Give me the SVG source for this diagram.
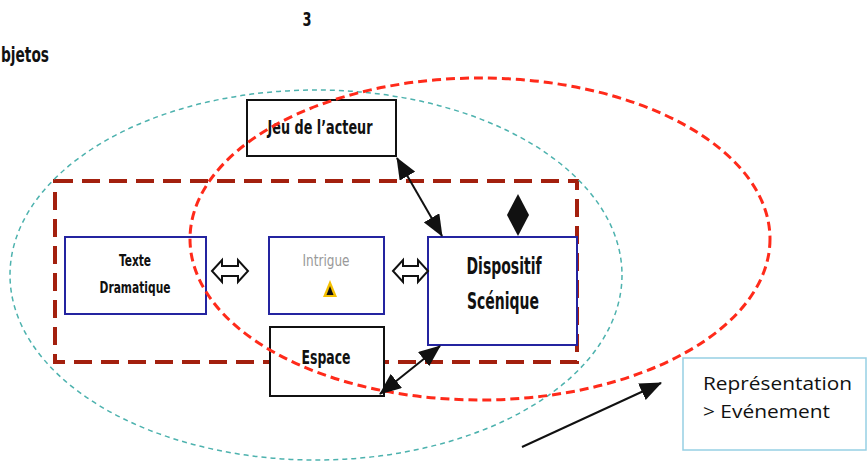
<svg xmlns="http://www.w3.org/2000/svg" width="867" height="461" viewBox="0 0 867 461">
<style>
.bg{fill:#ffffff}
.lbl{font-family:"DejaVu Sans Condensed","DejaVu Sans",sans-serif;font-stretch:condensed;font-weight:bold;fill:#111111}
.blue{fill:#ffffff;stroke:#2424a0;stroke-width:2}
.black{fill:#ffffff;stroke:#111111;stroke-width:2}
.conn{stroke:#111111;stroke-width:2;fill:none}
.hollow{fill:#ffffff;stroke:#111111;stroke-width:2;stroke-linejoin:miter}
</style>
<defs>
<marker id="ah" viewBox="0 0 22 18" refX="21" refY="9" markerWidth="22" markerHeight="18" markerUnits="userSpaceOnUse" orient="auto-start-reverse">
<path d="M0,0 L22,9 L0,18 Z" fill="#111111"/>
</marker>
</defs>
<rect class="bg" x="0" y="0" width="867" height="461"/>
<text class="lbl" x="307" y="26" font-size="19" text-anchor="middle" textLength="9" lengthAdjust="spacingAndGlyphs">3</text>
<text class="lbl" x="1" y="62" font-size="21" textLength="48" lengthAdjust="spacingAndGlyphs">bjetos</text>

<g id="frame">
<rect x="55" y="181" width="522" height="181" fill="none" stroke="#a3200e" stroke-width="4" stroke-dasharray="18,9"/>
</g>

<g id="jeu">
<rect class="black" x="247" y="100" width="149" height="56"/>
<text class="lbl" x="320" y="134" font-size="20" text-anchor="middle" textLength="105" lengthAdjust="spacingAndGlyphs">Jeu  de  l’acteur</text>
</g>

<g id="texte">
<rect class="blue" x="65" y="237" width="141" height="77"/>
<text class="lbl" x="135" y="266" font-size="16" text-anchor="middle" textLength="32" lengthAdjust="spacingAndGlyphs">Texte</text>
<text class="lbl" x="135" y="293" font-size="16" text-anchor="middle" textLength="71" lengthAdjust="spacingAndGlyphs">Dramatique</text>
</g>

<g id="intrigue">
<rect class="blue" x="269" y="237" width="115" height="77"/>
<text x="326" y="266" font-family="'DejaVu Sans Condensed','DejaVu Sans',sans-serif" font-stretch="condensed" font-size="16" fill="#999999" text-anchor="middle" textLength="47" lengthAdjust="spacingAndGlyphs">Intrigue</text>
<polygon points="330,280 337,297 323,297" fill="#f5c000"/>
<polygon points="330,286 333.5,295 326.5,295" fill="#111111"/>
</g>

<g id="dispositif">
<rect class="blue" x="428" y="237" width="149" height="108"/>
<text class="lbl" x="504" y="274" font-size="23" text-anchor="middle" textLength="75" lengthAdjust="spacingAndGlyphs">Dispositif</text>
<text class="lbl" x="503" y="309" font-size="23" text-anchor="middle" textLength="72" lengthAdjust="spacingAndGlyphs">Scénique</text>
</g>

<g id="espace">
<rect class="black" x="270" y="327" width="114" height="69"/>
<text class="lbl" x="326" y="364" font-size="19" text-anchor="middle" textLength="49" lengthAdjust="spacingAndGlyphs">Espace</text>
</g>

<g id="representation">
<rect x="683" y="358" width="183" height="92" fill="#ffffff" stroke="#96d0e4" stroke-width="1.5"/>
<text x="703" y="390" font-family="'Open Sans','Liberation Sans',sans-serif" font-size="19" fill="#111111" textLength="149" lengthAdjust="spacingAndGlyphs">Représentation</text>
<text x="703" y="418" font-family="'Open Sans','Liberation Sans',sans-serif" font-size="19" fill="#111111" textLength="127" lengthAdjust="spacingAndGlyphs">&gt; Evénement</text>
</g>

<g id="ellipses">
<ellipse cx="316" cy="275" rx="306" ry="185" fill="none" stroke="#4db2ae" stroke-width="1.5" stroke-dasharray="5,4"/>
<ellipse cx="480" cy="239" rx="290" ry="161" fill="none" stroke="#ff2a1a" stroke-width="3" stroke-dasharray="9,5"/>
</g>

<g id="connectors">
<line class="conn" x1="397" y1="158" x2="442" y2="236" marker-start="url(#ah)" marker-end="url(#ah)"/>
<line class="conn" x1="380" y1="394" x2="440" y2="346" marker-start="url(#ah)" marker-end="url(#ah)"/>
<line class="conn" x1="522" y1="447" x2="661" y2="383" marker-end="url(#ah)"/>
<polygon points="518,194 529,215 518,236 507,215" fill="#111111"/>
<path class="hollow" d="M212,271 L222,260 L222,266 L238,266 L238,260 L248,271 L238,282 L238,276 L222,276 L222,282 Z"/>
<path class="hollow" d="M393,271 L403,260 L403,266 L418,266 L418,260 L428,271 L418,282 L418,276 L403,276 L403,282 Z"/>
</g>
</svg>
